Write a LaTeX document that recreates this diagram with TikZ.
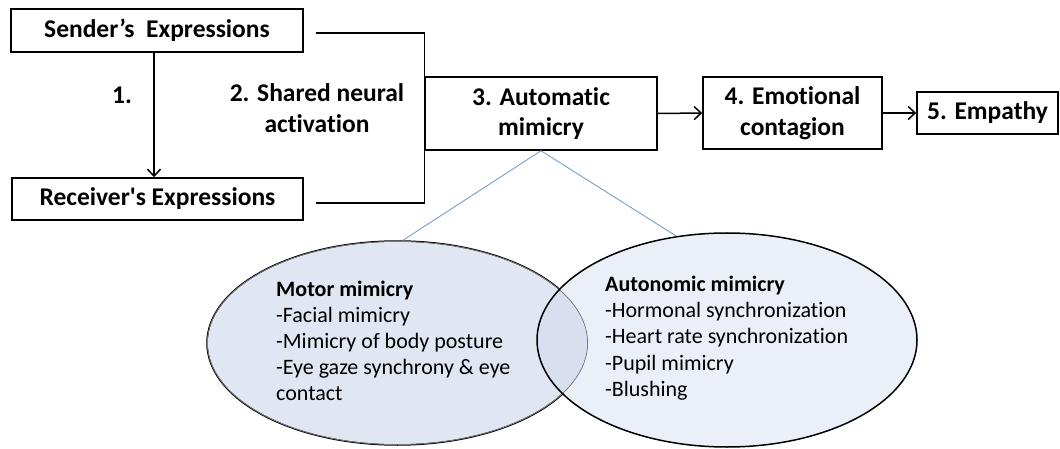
\documentclass[tikz,border=0pt]{standalone}
\usepackage{fontspec}
\setmainfont{Carlito}[Ligatures={TeXOff,NoCommon}]
\usetikzlibrary{shapes.geometric,arrows.meta}
\definecolor{bluelink}{RGB}{122,158,206}
\definecolor{leftfill}{RGB}{224,230,242}
\definecolor{rightfill}{RGB}{235,239,247}
\definecolor{midfill}{RGB}{216,223,238}
\definecolor{midline}{RGB}{120,120,125}
\tikzset{
  box/.style={draw=black, line width=1.5pt, inner sep=0pt, align=center,
    font=\fontsize{25.5}{30.5}\selectfont\bfseries},
  lbl/.style={inner sep=0pt, align=center, font=\fontsize{25.5}{30.5}\selectfont\bfseries},
  conn/.style={line width=1.5pt},
  arr/.style={line width=1.5pt, -{Straight Barb[length=7pt,width=13pt,line width=1.5pt]}},
  venn/.style={ellipse, line width=1.5pt, inner sep=0pt},
  blink/.style={draw=bluelink, line width=0.9pt},
  etext/.style={inner sep=0pt, anchor=base west, font=\fontsize{22}{26}\selectfont},
  ehead/.style={etext, font=\fontsize{22}{26}\selectfont\bfseries}
}
\begin{document}
\begin{tikzpicture}[x=1pt,y=-1pt]
\path[fill=white,use as bounding box] (0,0) rectangle (1060,449);

% boxes
\node[box, minimum width=292pt, minimum height=43pt] (send) at (157,30.5) {Sender’s\ \ Expressions};
\node[box, minimum width=291pt, minimum height=42pt] (recv) at (157.5,199) {Receiver's Expressions};
\node[box, minimum width=232pt, minimum height=73pt] (auto) at (541,113.5) {3. Automatic\\mimicry};
\node[box, minimum width=179pt, minimum height=72pt] (emo) at (792.5,113) {4. Emotional\\contagion};
\node[box, minimum width=141pt, minimum height=42pt] (emp) at (987.5,113) {5. Empathy};

% labels
\node[lbl] (one) at (122,95) {1.};
\node[lbl] (two) at (317,108) {2. Shared neural\\activation};

% connectors
\draw[arr] (send.south -| 154,0) -- (recv.north -| 154,0);
\coordinate (sendout) at ([xshift=12pt,yshift=-2.5pt]send.east);
\coordinate (recvout) at ([xshift=12pt,yshift=-4pt]recv.east);
\draw[conn] (sendout) -| (auto.north west);
\draw[conn] (recvout) -| (auto.south west);
\draw[arr] (auto.east) -- (emo.west);
\draw[arr] (emo.east) -- (emp.west);

% venn ellipses
\node[venn, draw=black, fill=leftfill, minimum width=381pt, minimum height=204pt] (motor) at (397.5,343) {};
\node[venn, fill=rightfill, minimum width=380pt, minimum height=214pt] (auton) at (727,340) {};
\begin{scope}
  \clip (397.5,343) ellipse [x radius=190.5, y radius=102];
  \fill[midfill] (727,340) ellipse [x radius=190, y radius=107];
  \draw[midline, line width=1.5pt] (397.5,343) ellipse [x radius=190.5, y radius=102];
\end{scope}
\draw[line width=1.5pt] (727,340) ellipse [x radius=190, y radius=107];

\draw[blink] (auto.south) -- (motor.87);
\draw[blink] (auto.south) -- (auton.116);

% ellipse texts
\node[ehead] (m0) at (276,296) {Motor mimicry};
\node[etext] (m1) at (276,322.5) {-Facial mimicry};
\node[etext] (m2) at (276,348.5) {-Mimicry of body posture};
\node[etext] (m3) at (276,374.5) {-Eye gaze synchrony \& eye};
\node[etext] (m4) at (276,400.5) {contact};

\node[ehead] (a0) at (605,291) {Autonomic mimicry};
\node[etext] (a1) at (605,317.5) {-Hormonal synchronization};
\node[etext] (a2) at (605,343.5) {-Heart rate synchronization};
\node[etext] (a3) at (605,370) {-Pupil mimicry};
\node[etext] (a4) at (605,396.5) {-Blushing};
\end{tikzpicture}
\end{document}
